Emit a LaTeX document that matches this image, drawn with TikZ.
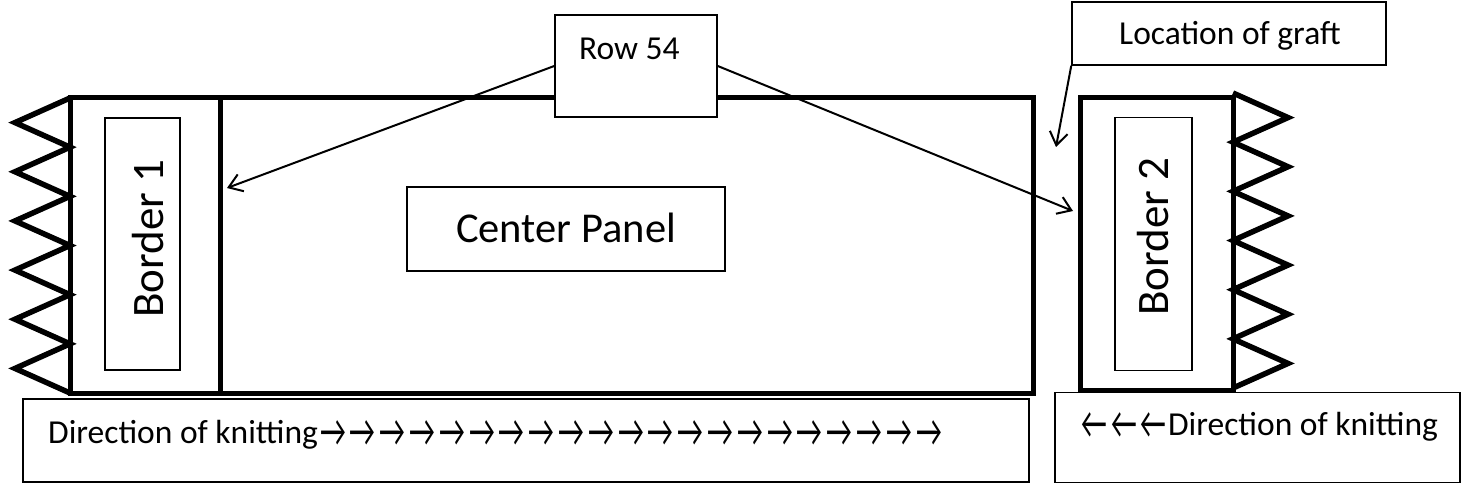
\documentclass[tikz,border=0pt]{standalone}
\usepackage{fontspec}
\usepackage{graphicx}
\setmainfont{Carlito}
\usetikzlibrary{arrows.meta}
\newcommand\rar{\makebox[29.8pt][c]{\raisebox{-3.5pt}{\scalebox{0.85}[1.35]{→}}}}
\newcommand\lar{\makebox[29.3pt][c]{\raisebox{-3.5pt}{\scalebox{0.85}[1.35]{←}}}}
\begin{document}
\begin{tikzpicture}[x=1pt,y=-1pt,
  heavy/.style={line width=5pt, line join=miter, line cap=rect},
  zig/.style={line width=5.5pt, line join=miter, miter limit=20},
  thinbox/.style={draw, line width=1.5pt, inner sep=0pt},
  ptr/.style={line width=2pt, -{Straight Barb[length=13pt,width=18pt,line width=2pt]}},
  txt/.style={font=\fontsize{33.5}{38}\selectfont, inner sep=0pt},
  bigtxt/.style={font=\fontsize{45}{50}\selectfont, inner sep=0pt},
]
\useasboundingbox (0,0) rectangle (1467,486);

% main piece: border 1 + center panel
\draw[heavy] (70,98) rectangle (1033,393);
\draw[heavy] (220,98) -- (220,393);
% left zigzag
\draw[zig] (70,98) \foreach \i in {0,...,5} { -- (15,{98+49.17*\i+24.58}) -- (70,{98+49.17*(\i+1)}) };
% border 2
\draw[heavy] (1080,98) rectangle (1233,390);
\draw[zig] (1233,93) \foreach \i in {0,...,5} { -- (1288,{93+49.17*\i+24.58}) -- (1233,{93+49.17*(\i+1)}) };

% inner boxes
\node[thinbox, minimum width=75pt, minimum height=252pt] (b1box) at (142.5,244) {};
\node[bigtxt, rotate=90, anchor=base west] (b1) at (163,318) {Border 1};
\node[thinbox, minimum width=77pt, minimum height=253pt] (b2box) at (1153.5,244) {};
\node[bigtxt, rotate=90, anchor=base west] (b2) at (1168,316) {Border 2};

\node[thinbox, minimum width=318pt, minimum height=84pt] (cpbox) at (566,229) {};
\node[font=\fontsize{42.5}{48}\selectfont, inner sep=0pt] (cp) at (566,228) {Center Panel};

% Row 54
\node[thinbox, fill=white, minimum width=162pt, minimum height=102pt] (row) at (636,66) {};
\node[txt, anchor=base west] (rowtxt) at (579,60) {Row 54};
\coordinate (t1) at (227,188);
\coordinate (t2) at (1073,211);
\draw[ptr] (row.west) -- (t1);
\draw[ptr] (row.east) -- (t2);

% Location of graft
\node[thinbox, minimum width=314pt, minimum height=63pt] (graft) at (1229,33.5) {};
\node[txt, anchor=base west] (grafttxt) at (1119,45) {Location of graft};
\coordinate (g1) at (1056,147);
\draw[ptr] (graft.south west) -- (g1);

% direction boxes
\node[thinbox, minimum width=1006pt, minimum height=83pt] (dl) at (526,440.5) {};
\node[txt, anchor=base west] (dltxt) at (48,443) {Direction of knitting\rar\rar\rar\rar\rar\rar\rar\rar\rar\rar\rar\rar\rar\rar\rar\rar\rar\rar\rar\rar\rar};
\node[thinbox, minimum width=405pt, minimum height=90pt] (dr) at (1257.5,437.5) {};
\node[txt, anchor=base west] (drtxt) at (1080,435) {\lar\lar\lar Direction of knitting};
\end{tikzpicture}
\end{document}
